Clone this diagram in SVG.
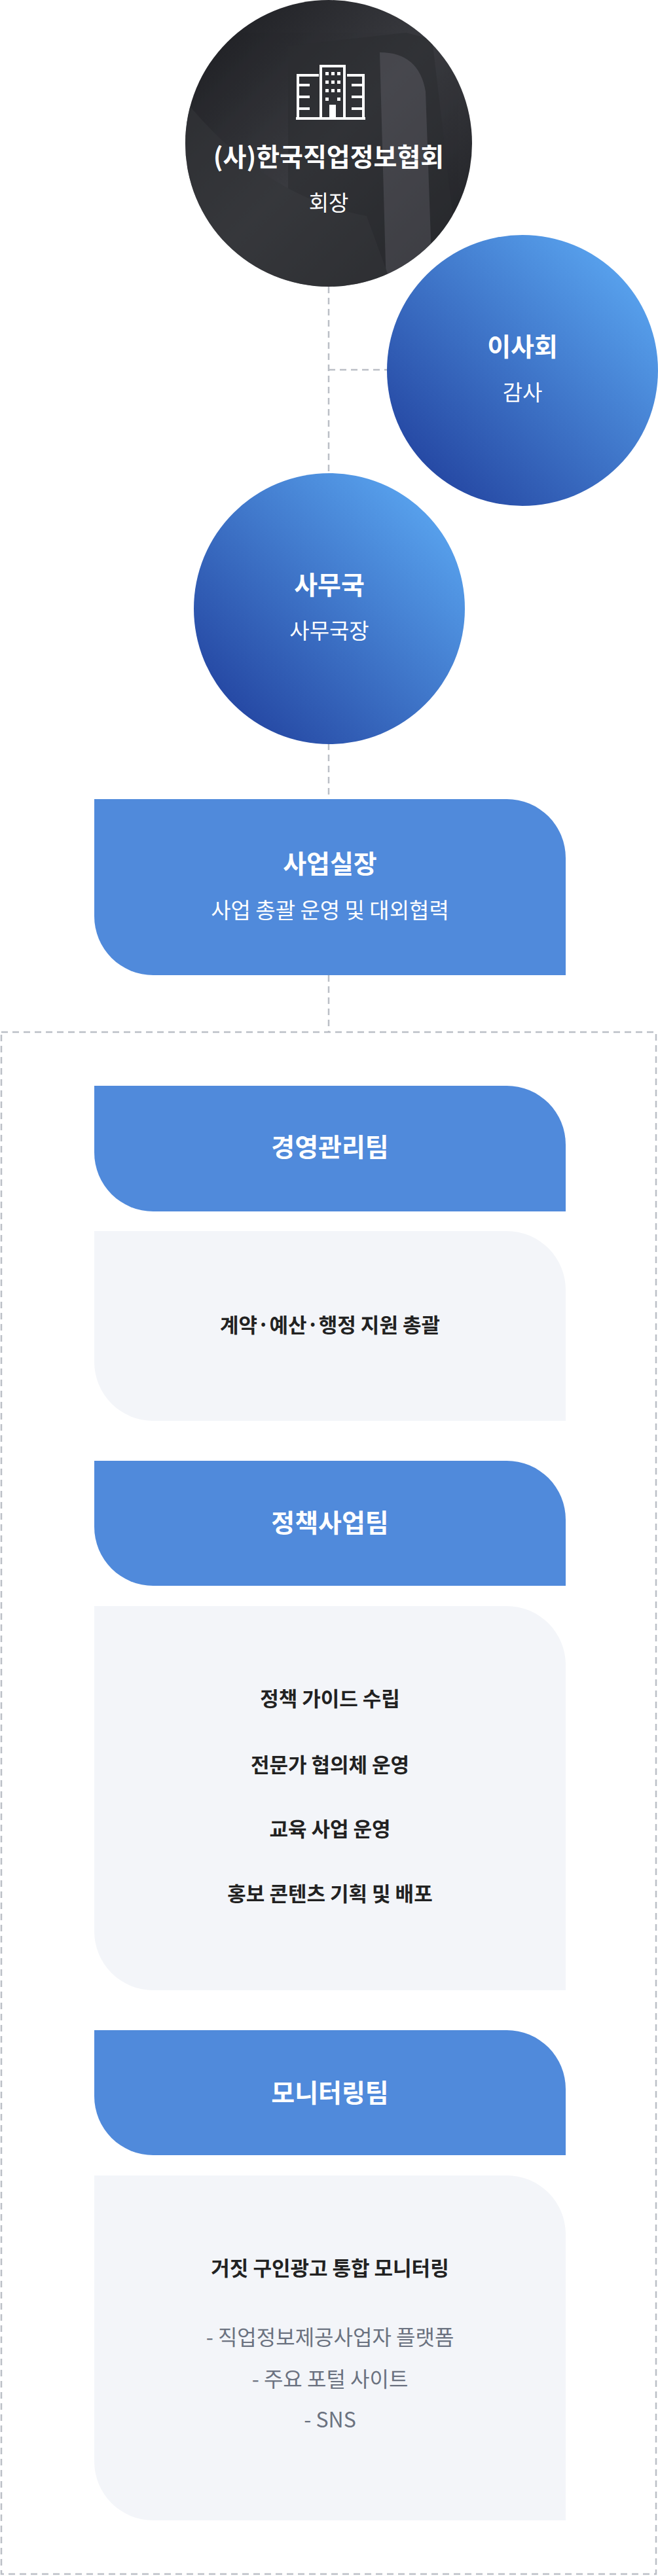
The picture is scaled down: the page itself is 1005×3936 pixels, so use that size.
<svg xmlns="http://www.w3.org/2000/svg" width="1005" height="3936" viewBox="0 0 1005 3936">
<style>
text{font-family:"Noto Sans CJK KR","Noto Sans",sans-serif;text-anchor:middle}
.w{fill:#fff}.t{font-size:39px;font-weight:700}.s{font-size:33px;font-weight:400}
.d{fill:#222;font-size:31px;font-weight:700}.g{fill:#6b7280;font-size:32px;font-weight:400}
.hd{fill:#508adb}.bd{fill:#f3f5f9}
.dash{stroke:#bbbfc6;stroke-width:2.5;stroke-dasharray:10 7;fill:none}
</style>
<defs>
<linearGradient id="blue" x1="1" y1="0" x2="0" y2="1"><stop offset="0.1" stop-color="#5aa5f0"/><stop offset="0.9" stop-color="#2344a0"/></linearGradient>
<linearGradient id="dark" x1="0" y1="0" x2="1" y2="1"><stop offset="0" stop-color="#1a1b1f"/><stop offset="0.5" stop-color="#3a3b40"/><stop offset="1" stop-color="#1c1d21"/></linearGradient>
<clipPath id="cc"><circle cx="502" cy="219" r="219"/></clipPath>
</defs>
<g id="connectors">
<path class="dash" d="M502 438V723M502 565H591M502 1136V1221M502 1490V1577"/>
<rect class="dash" x="2" y="1577" width="1000" height="2356"/>
</g>
<g id="n-assoc">
<circle cx="502" cy="219" r="219" fill="url(#dark)"/>
<g clip-path="url(#cc)" fill="#4a4b50" opacity="0.6">
<path d="M440 70 L620 50 L660 60 L700 400 L440 440Z" fill="#2c2d31"/>
<path d="M580 80 Q640 80 650 140 L660 420 L590 440Z" fill="#505157"/>
<path d="M280 150 Q400 300 560 330 L600 440 L280 440Z" fill="#35363a"/>
</g>
<g fill="none" stroke="#fff" stroke-width="4">
<rect x="490" y="101" width="36" height="80"/>
<path d="M455 181V115h32M530 115h25v66M452 181h106M455 130h18M455 148h18M455 166h18M537 130h18M537 148h18M537 166h18"/>
</g>
<g fill="#fff"><rect x="497" y="110" width="5" height="5"/><rect x="506" y="110" width="5" height="5"/><rect x="515" y="110" width="5" height="5"/><rect x="497" y="123" width="5" height="5"/><rect x="506" y="123" width="5" height="5"/><rect x="515" y="123" width="5" height="5"/><rect x="497" y="136" width="5" height="5"/><rect x="506" y="136" width="5" height="5"/><rect x="515" y="136" width="5" height="5"/><rect x="497" y="149" width="5" height="5"/><rect x="515" y="149" width="5" height="5"/><rect x="503" y="160" width="10" height="20"/></g>
<text class="w t" x="502" y="254">(사)한국직업정보협회</text>
<text class="w s" x="502" y="322">회장</text>
</g>
<g id="n-board">
<circle cx="798" cy="566" r="207" fill="url(#blue)"/>
<text class="w t" x="798" y="544">이사회</text>
<text class="w s" x="798" y="612">감사</text>
</g>
<g id="n-office">
<circle cx="503" cy="930" r="207" fill="url(#blue)"/>
<text class="w t" x="503" y="908">사무국</text>
<text class="w s" x="503" y="976">사무국장</text>
</g>
<g id="n-director">
<path class="hd" d="M144 1221H774A90 90 0 0 1 864 1311V1490H234A90 90 0 0 1 144 1400Z"/>
<text class="w t" x="504" y="1334">사업실장</text>
<text class="w s" x="504" y="1403">사업 총괄 운영 및 대외협력</text>
</g>
<g id="n-mgmt">
<path class="hd" d="M144 1659H774A90 90 0 0 1 864 1749V1851H234A90 90 0 0 1 144 1761Z"/>
<text class="w t" x="504" y="1767">경영관리팀</text>
<path class="bd" d="M144 1881H774A90 90 0 0 1 864 1971V2171H234A90 90 0 0 1 144 2081Z"/>
<text class="d" x="504" y="2036">계약·예산·행정 지원 총괄</text>
</g>
<g id="n-policy">
<path class="hd" d="M144 2232H774A90 90 0 0 1 864 2322V2423H234A90 90 0 0 1 144 2333Z"/>
<text class="w t" x="504" y="2341">정책사업팀</text>
<path class="bd" d="M144 2454H774A90 90 0 0 1 864 2544V3041H234A90 90 0 0 1 144 2951Z"/>
<text class="d" x="504" y="2607">정책 가이드 수립</text>
<text class="d" x="504" y="2708">전문가 협의체 운영</text>
<text class="d" x="504" y="2806">교육 사업 운영</text>
<text class="d" x="504" y="2905">홍보 콘텐츠 기획 및 배포</text>
</g>
<g id="n-monitor">
<path class="hd" d="M144 3102H774A90 90 0 0 1 864 3192V3293H234A90 90 0 0 1 144 3203Z"/>
<text class="w t" x="504" y="3212">모니터링팀</text>
<path class="bd" d="M144 3324H774A90 90 0 0 1 864 3414V3851H234A90 90 0 0 1 144 3761Z"/>
<text class="d" x="504" y="3477">거짓 구인광고 통합 모니터링</text>
<text class="g" x="504" y="3583">- 직업정보제공사업자 플랫폼</text>
<text class="g" x="504" y="3647">- 주요 포털 사이트</text>
<text class="g" x="504" y="3709">- SNS</text>
</g>
</svg>
